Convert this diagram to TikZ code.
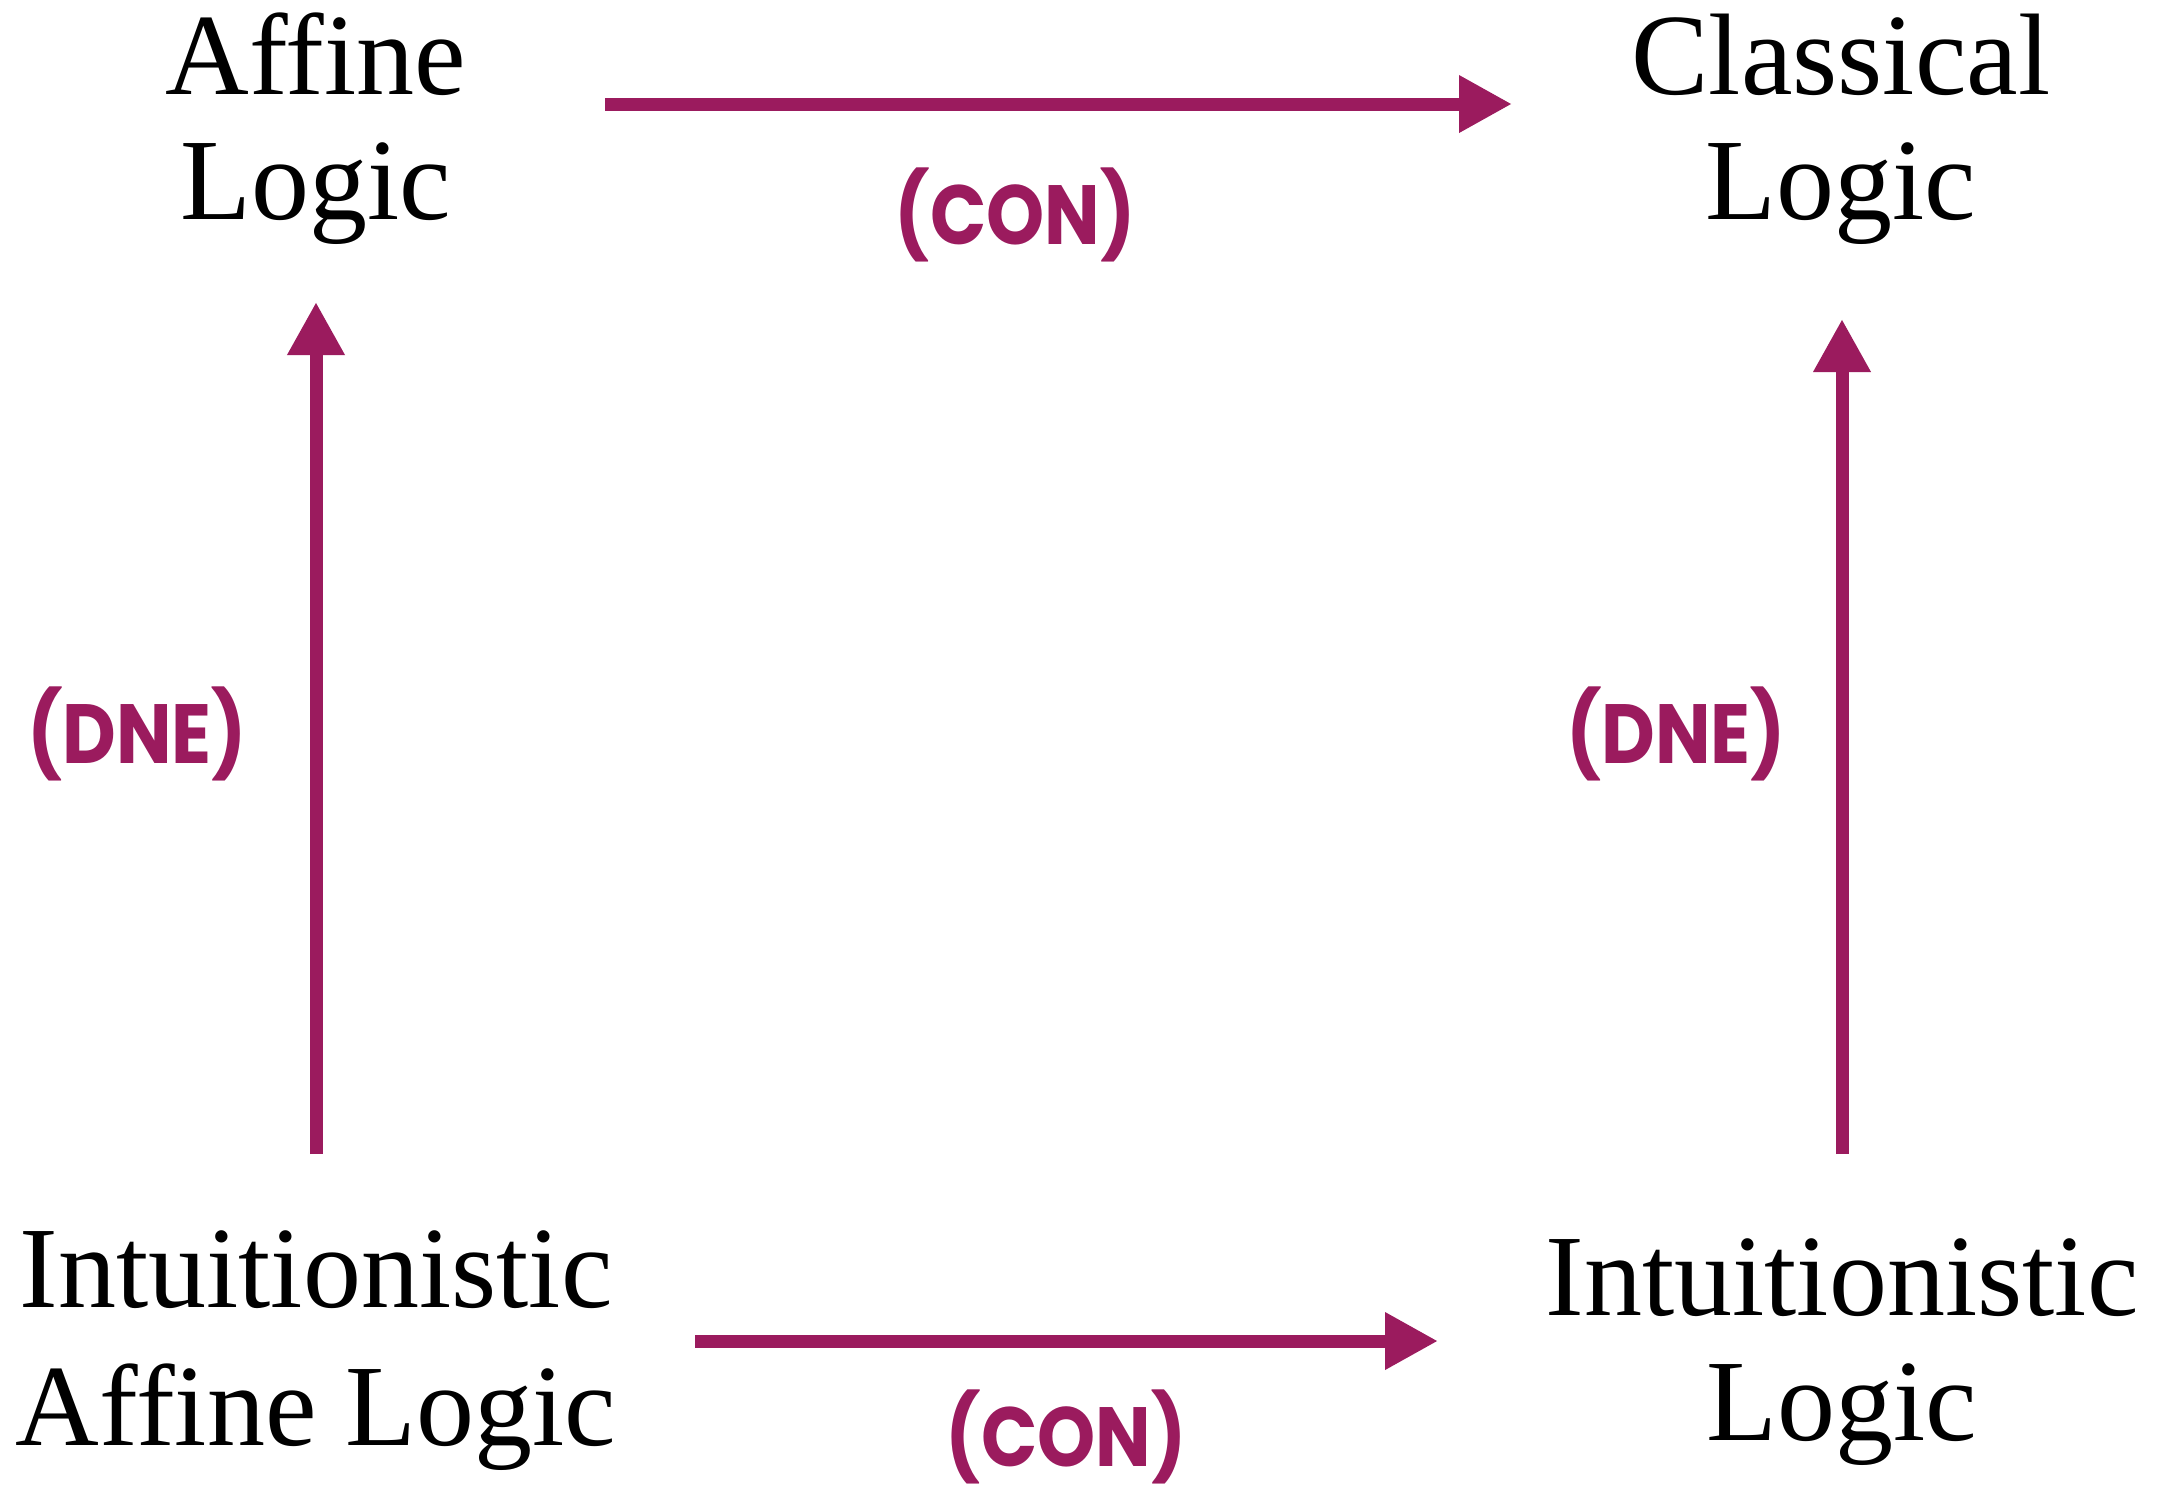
\documentclass[tikz,border=0pt]{standalone}
\usepackage{fontspec}
\setmainfont{Liberation Serif}
\newfontfamily\labfont{Poppins}
\usetikzlibrary{arrows.meta,calc}
\definecolor{wine}{RGB}{155,27,94}
\newcommand{\labtext}[1]{\scalebox{0.88}[1]{#1}}
\begin{document}
\begin{tikzpicture}[x=0.5pt,y=-0.5pt,
  logic/.style={anchor=base,align=center,inner sep=0pt,font=\fontsize{58}{62.5}\selectfont},
  lab/.style={text=wine,inner sep=0pt,font=\labfont\bfseries\fontsize{42}{46}\selectfont},
  arr/.style={draw=wine,line width=6.5pt,-{Triangle[length=26.5pt,width=27pt]}}]
\useasboundingbox (0,0) rectangle (2172,1496);
\node[logic] (aff) at (316,219) {Affine\\Logic};
\node[logic] (cla) at (1841,219) {Classical\\Logic};
\node[logic,font=\fontsize{58}{69}\selectfont] (ial) at (316,1445) {Intuitionistic\\Affine Logic};
\node[logic] (int) at (1842,1440) {Intuitionistic\\Logic};
\draw[arr] ($(aff.base)+(289,-115)$) -- ($(cla.base)+(-329,-115)$);
\draw[arr] ($(ial.base)+(379,-104)$) -- ($(int.base)+(-404,-99)$);
\draw[arr] ($(ial.base)+(0,-291)$) -- ($(aff.base)+(0,83)$);
\draw[arr] ($(int.base)+(0,-286)$) -- ($(cla.base)+(1,100)$);
\node[lab] (con1) at (1015,215) {\labtext{(CON)}};
\node[lab] (con2) at (1066,1437) {\labtext{(CON)}};
\node[lab] (dne1) at (137,734) {\labtext{(DNE)}};
\node[lab] (dne2) at (1676,734) {\labtext{(DNE)}};
\end{tikzpicture}
\end{document}
